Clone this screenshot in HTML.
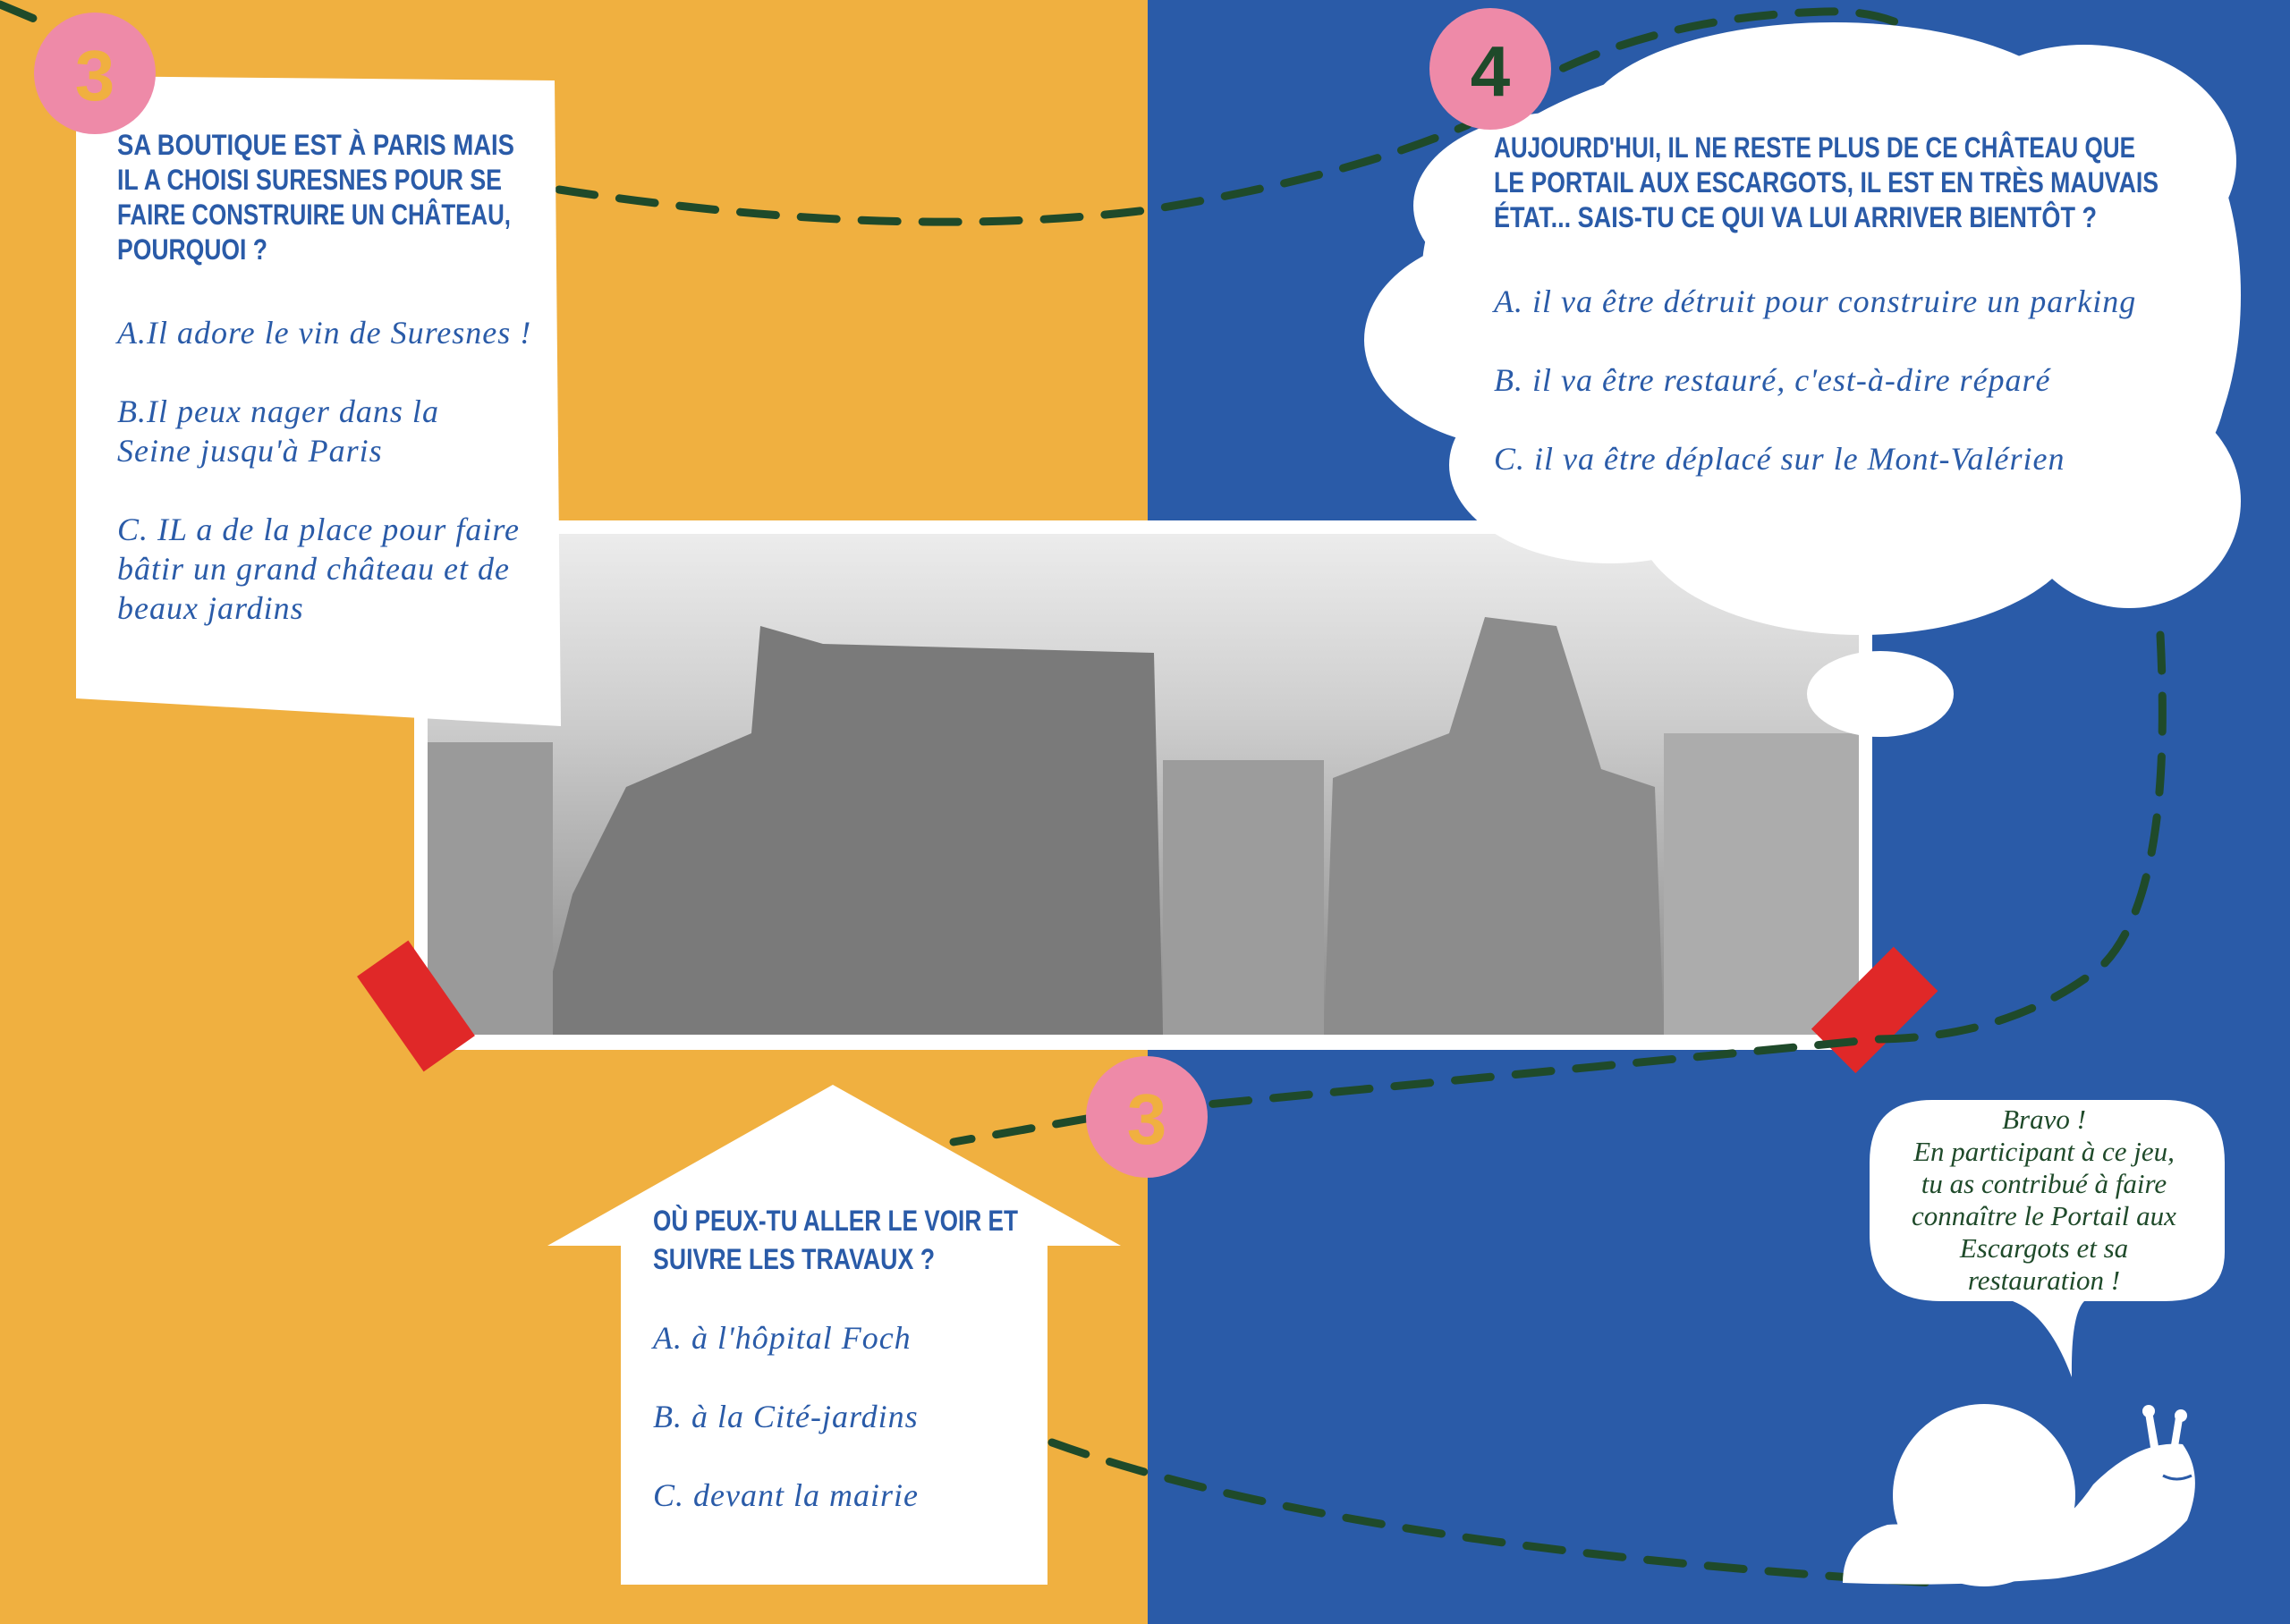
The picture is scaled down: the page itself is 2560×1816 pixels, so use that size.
<!DOCTYPE html>
<html><head><meta charset="utf-8"><style>
body{margin:0;width:2560px;height:1816px;overflow:hidden;font-family:"Liberation Sans",sans-serif}
svg{display:block}
.t{font-family:"Liberation Sans",sans-serif;font-weight:bold;font-size:32px;fill:#2a5ba8}
.a{font-family:"Liberation Serif",serif;font-style:italic;font-size:36px;letter-spacing:1px;fill:#2a5ba8}
.g{font-family:"Liberation Serif",serif;font-style:italic;font-size:31px;fill:#1f4a2a}
.n{font-family:"Liberation Sans",sans-serif;font-weight:bold;font-size:80px;fill:#f0b040}
</style></head><body>
<svg width="2560" height="1816" viewBox="0 0 2560 1816">
<rect x="0" y="0" width="1283" height="1816" fill="#f0b040"/>
<rect x="1283" y="0" width="1277" height="1816" fill="#2a5ba8"/>
<defs><linearGradient id="ph" x1="0" y1="0" x2="0" y2="1"><stop offset="0" stop-color="#ececec"/><stop offset="0.35" stop-color="#cfcfcf"/><stop offset="1" stop-color="#8a8a8a"/></linearGradient></defs>
<!-- photo -->
<rect x="463" y="582" width="1630" height="592" fill="#fff"/>
<rect x="478" y="597" width="1600" height="560" fill="url(#ph)"/>
<polygon points="600,1157 640,1000 700,880 840,820 850,700 920,720 1290,730 1300,1157" fill="#7a7a7a"/>
<polygon points="1480,1157 1490,870 1620,820 1660,690 1740,700 1790,860 1850,880 1860,1157" fill="#8c8c8c"/>
<rect x="478" y="830" width="140" height="327" fill="#9a9a9a"/>
<rect x="1860" y="820" width="218" height="337" fill="#acacac"/>
<rect x="1300" y="850" width="180" height="307" fill="#9c9c9c"/>
<rect x="430" y="1060" width="70" height="130" fill="#e02828" transform="rotate(-35 465 1125)"/>
<rect x="2050" y="1060" width="70" height="130" fill="#e02828" transform="rotate(45 2085 1140)"/>
<!-- dashes -->
<g fill="none" stroke="#1f4a2a" stroke-width="9" stroke-dasharray="40,28" stroke-linecap="round">
<path d="M0,5 L55,28"/>
<path d="M625,212 Q1000,270 1282,235 Q1500,200 1640,140 Q1800,20 2040,13 Q2130,10 2175,65"/>
<path d="M2415,710 Q2430,1000 2350,1080 Q2250,1160 2100,1162 L1350,1235"/>
<path d="M1220,1250 L1066,1277"/>
<path d="M1176,1613 Q1500,1730 2160,1770"/>
</g>
<!-- left note -->
<polygon points="85,85 620,90 627,812 85,781" fill="#fff"/>
<circle cx="106" cy="82" r="68" fill="#ee8aa8"/><text x="106" y="112" class="n" text-anchor="middle">3</text>
<text class="t" x="131" y="173" textLength="444" lengthAdjust="spacingAndGlyphs">SA BOUTIQUE EST À PARIS MAIS</text>
<text class="t" x="131" y="212" textLength="430" lengthAdjust="spacingAndGlyphs">IL A CHOISI SURESNES POUR SE</text>
<text class="t" x="131" y="251" textLength="440" lengthAdjust="spacingAndGlyphs">FAIRE CONSTRUIRE UN CHÂTEAU,</text>
<text class="t" x="131" y="290" textLength="168" lengthAdjust="spacingAndGlyphs">POURQUOI ?</text>
<text class="a"><tspan x="131" y="384">A.Il adore le vin de Suresnes !</tspan><tspan x="131" y="472">B.Il peux nager dans la</tspan><tspan x="131" y="516">Seine jusqu'à Paris</tspan><tspan x="131" y="604">C. IL a de la place pour faire</tspan><tspan x="131" y="648">bâtir un grand château et de</tspan><tspan x="131" y="692">beaux jardins</tspan></text>
<!-- cloud -->
<g fill="#fff">
<ellipse cx="2010" cy="300" rx="420" ry="240"/>
<ellipse cx="2050" cy="140" rx="280" ry="115"/>
<ellipse cx="2330" cy="180" rx="170" ry="130"/>
<ellipse cx="2400" cy="330" rx="105" ry="220"/>
<ellipse cx="2330" cy="420" rx="160" ry="160"/>
<ellipse cx="2380" cy="560" rx="125" ry="120"/>
<ellipse cx="1700" cy="380" rx="175" ry="120"/>
<ellipse cx="1750" cy="230" rx="170" ry="105"/>
<ellipse cx="1800" cy="520" rx="180" ry="110"/>
<ellipse cx="2080" cy="580" rx="250" ry="130"/>
<ellipse cx="2102" cy="776" rx="82" ry="48"/>
</g>
<circle cx="1666" cy="77" r="68" fill="#ee8aa8"/><text x="1666" y="107" class="n" text-anchor="middle" style="fill:#1f4a2a">4</text>
<text class="t" x="1670" y="176" textLength="717" lengthAdjust="spacingAndGlyphs">AUJOURD'HUI, IL NE RESTE PLUS DE CE CHÂTEAU QUE</text>
<text class="t" x="1670" y="215" textLength="743" lengthAdjust="spacingAndGlyphs">LE PORTAIL AUX ESCARGOTS, IL EST EN TRÈS MAUVAIS</text>
<text class="t" x="1670" y="254" textLength="674" lengthAdjust="spacingAndGlyphs">ÉTAT... SAIS-TU CE QUI VA LUI ARRIVER BIENTÔT ?</text>
<text class="a"><tspan x="1670" y="349">A. il va être détruit pour construire un parking</tspan><tspan x="1670" y="437">B. il va être restauré, c'est-à-dire réparé</tspan><tspan x="1670" y="525">C. il va être déplacé sur le Mont-Valérien</tspan></text>
<!-- house -->
<polygon points="931,1213 1253,1393 1171,1393 1171,1772 694,1772 694,1393 612,1393" fill="#fff"/>
<circle cx="1282" cy="1249" r="68" fill="#ee8aa8"/><text x="1282" y="1279" class="n" text-anchor="middle">3</text>
<text class="t" x="730" y="1376" textLength="408" lengthAdjust="spacingAndGlyphs">OÙ PEUX-TU ALLER LE VOIR ET</text>
<text class="t" x="730" y="1419" textLength="315" lengthAdjust="spacingAndGlyphs">SUIVRE LES TRAVAUX ?</text>
<text class="a"><tspan x="730" y="1508">A. à l'hôpital Foch</tspan><tspan x="730" y="1596">B. à la Cité-jardins</tspan><tspan x="730" y="1684">C. devant la mairie</tspan></text>
<!-- bubble -->
<path d="M2160,1230 L2420,1230 Q2487,1230 2487,1300 L2487,1400 Q2487,1455 2420,1455 L2330,1455 Q2315,1470 2316,1540 Q2290,1470 2250,1455 L2170,1455 Q2090,1455 2090,1380 L2090,1300 Q2090,1230 2160,1230 Z" fill="#fff"/>
<text class="g" text-anchor="middle"><tspan x="2285" y="1262">Bravo !</tspan><tspan x="2285" y="1298">En participant à ce jeu,</tspan><tspan x="2285" y="1334">tu as contribué à faire</tspan><tspan x="2285" y="1370">connaître le Portail aux</tspan><tspan x="2285" y="1406">Escargots et sa</tspan><tspan x="2285" y="1442">restauration !</tspan></text>
<!-- snail -->
<g fill="#fff">
<circle cx="2218" cy="1672" r="102"/>
<path d="M2060,1770 Q2060,1720 2110,1705 Q2160,1700 2230,1740 Q2300,1720 2340,1660 Q2390,1610 2440,1615 Q2465,1650 2445,1700 Q2400,1750 2300,1765 Q2180,1775 2060,1770 Z"/>
<path d="M2405,1625 L2398,1580 L2406,1578 L2414,1623 Z"/>
<path d="M2425,1628 L2432,1585 L2440,1587 L2433,1630 Z"/>
<circle cx="2402" cy="1578" r="7"/><circle cx="2438" cy="1583" r="7"/>
</g>
<path d="M2418,1650 Q2433,1658 2450,1650" stroke="#2a5ba8" stroke-width="3" fill="none"/>
</svg>
</body></html>
